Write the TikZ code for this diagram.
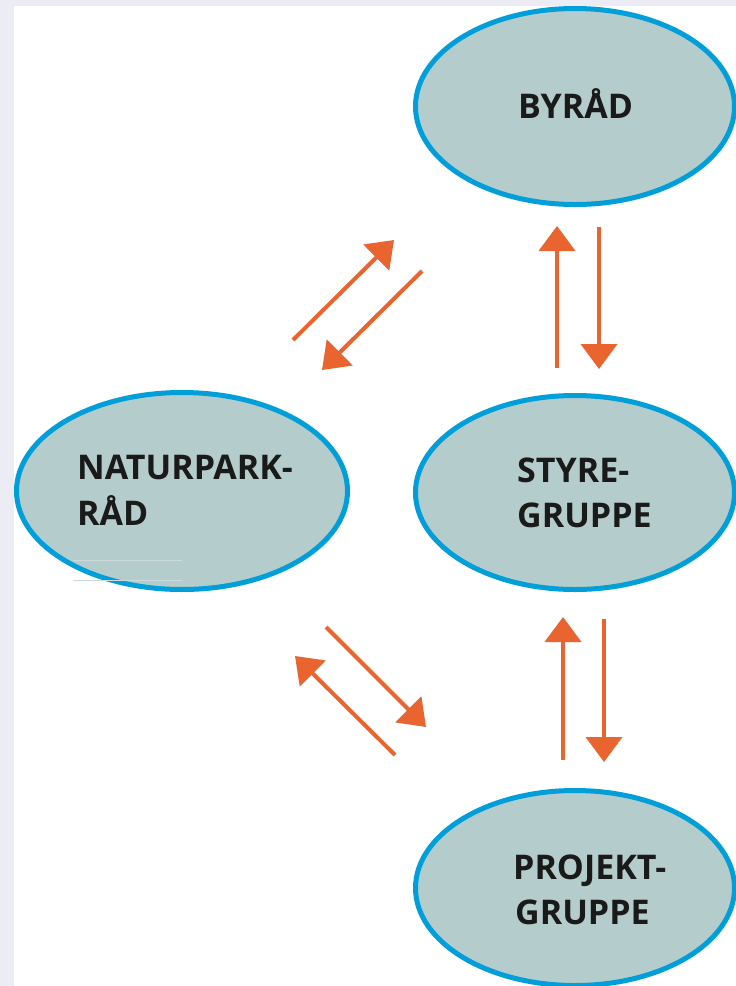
\documentclass[tikz,border=0pt]{standalone}
\usepackage{fontspec}
\setmainfont{Open Sans}
\usetikzlibrary{arrows.meta,shapes.geometric}
\definecolor{bgband}{HTML}{ECECF4}
\definecolor{ellfill}{HTML}{B5CCCD}
\definecolor{ellline}{HTML}{009FD9}
\definecolor{arrorange}{HTML}{E9642F}
\definecolor{txt}{HTML}{1A1A1A}
\tikzset{
  bubble/.style={ellipse, fill=ellfill, draw=ellline, line width=5pt, inner sep=0pt},
  label text/.style={anchor=base west, inner sep=0pt, text=txt,
    font=\fontsize{34}{40}\selectfont\bfseries},
  flow/.style={draw=arrorange, line width=4pt,
    -{Triangle[length=25pt,width=36pt]}, fill=arrorange}
}
\begin{document}
\begin{tikzpicture}[x=1pt,y=-1pt]
\useasboundingbox (0,0) rectangle (736,986);
\clip (0,0) rectangle (736,986);
\fill[bgband] (0,0) rectangle (736,986);
\fill[white] (14,6) rectangle (736,986);

% ellipses
\node[bubble, minimum width=319pt, minimum height=196pt] (byrad) at (575,106.5) {};
\node[bubble, minimum width=331pt, minimum height=197pt] (natur) at (182,491) {};
\node[bubble, minimum width=319pt, minimum height=194pt] (styre) at (575,492.5) {};
\node[bubble, minimum width=319pt, minimum height=195pt] (projekt) at (575,888) {};

% faint artefact lines
\draw[draw=ellfill!70!white, line width=0.8pt] (73,560) -- (182,560);
\draw[draw=ellfill!70!white, line width=0.8pt] (73,580) -- (182,580);

% texts
\node[label text] (tbyrad) at (518,118) {BYRÅD};
\node[label text] (tnatur1) at (77,479) {NATURPARK-};
\node[label text] (tnatur2) at (77,525) {RÅD};
\node[label text] (tstyre1) at (517,482) {STYRE-};
\node[label text] (tstyre2) at (517,527) {GRUPPE};
\node[label text] (tproj1) at (513,879) {PROJEKT-};
\node[label text] (tproj2) at (515,924) {GRUPPE};

% arrow end points
\coordinate (a1s) at (293,340); \coordinate (a1e) at (394,240);
\coordinate (a2s) at (422,271); \coordinate (a2e) at (322,370);
\coordinate (a3s) at (557,368); \coordinate (a3e) at (557,226);
\coordinate (a4s) at (599,227); \coordinate (a4e) at (599,369);
\coordinate (a5s) at (326,627); \coordinate (a5e) at (426,727);
\coordinate (a6s) at (395,755); \coordinate (a6e) at (295,656);
\coordinate (a7s) at (563,760); \coordinate (a7e) at (563,617);
\coordinate (a8s) at (604,619); \coordinate (a8e) at (604,762);

\foreach \i in {1,...,8} \draw[flow] (a\i s) -- (a\i e);
\end{tikzpicture}
\end{document}
